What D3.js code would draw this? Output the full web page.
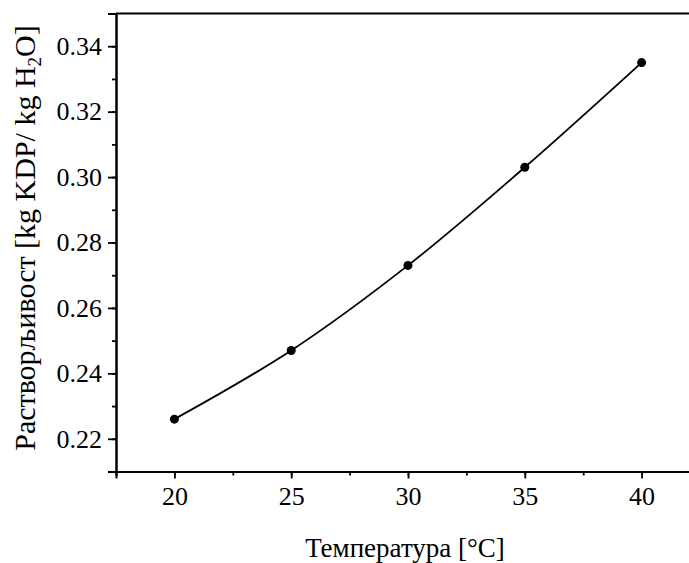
<!DOCTYPE html>
<html>
<head>
<meta charset="utf-8">
<script src="https://cdn.jsdelivr.net/npm/d3@7"></script>
<style>
  body { margin: 0; background: #fff; }
  text { font-family: "Liberation Serif", "Times New Roman", serif; fill: #000; }
</style>
</head>
<body>
<script>
// data
var temps = [20, 25, 30, 35, 40];
var solubility = [0.226, 0.247, 0.273, 0.303, 0.335];
var xTickLabels = [20, 25, 30, 35, 40];
var yTickLabels = [0.22, 0.24, 0.26, 0.28, 0.30, 0.32, 0.34];

var w = 689, h = 563;
// plot box (right side runs off the picture)
var padL = 116, padT = 13.5, padB = 471.5, padR = 700;

var svg = d3.select("body").append("svg")
    .attr("width", w)
    .attr("height", h);

var x = d3.scaleLinear().domain([17.5, 42.5]).range([padL, padR]);
var y = d3.scaleLinear().domain([0.21, 0.35]).range([padB, padT]);

// top frame line
svg.append("line")
    .attr("x1", padL).attr("x2", padR)
    .attr("y1", padT).attr("y2", padT)
    .attr("stroke", "#000").attr("stroke-width", 2);

// x axis: minor ticks, then labelled major ticks
var xAxis = svg.append("g").attr("transform", "translate(0," + padB + ")");
xAxis.call(d3.axisBottom(x).tickValues(d3.range(17.5, 42.6, 2.5))
    .tickSize(4).tickFormat(""));
xAxis.append("g").call(d3.axisBottom(x).tickValues(xTickLabels)
    .tickSize(7).tickPadding(8).tickFormat(d3.format("d")));
xAxis.selectAll("path.domain").attr("stroke-width", 2);
xAxis.selectAll(".tick line").attr("stroke-width", 1.8);
xAxis.selectAll("text")
    .attr("font-size", 26)
    .attr("font-family", "Liberation Serif")
    .attr("fill", "#000");

// y axis
var yAxis = svg.append("g").attr("transform", "translate(" + padL + ",0)");
yAxis.call(d3.axisLeft(y).tickValues(d3.range(21, 35, 1).map(function(d){ return d / 100; }))
    .tickSize(4).tickFormat(""));
yAxis.append("g").call(d3.axisLeft(y).tickValues(yTickLabels)
    .tickSize(8).tickPadding(6).tickFormat(d3.format(".2f")));
yAxis.selectAll("path.domain").attr("stroke-width", 2);
yAxis.selectAll(".tick line").attr("stroke-width", 1.8);
yAxis.selectAll("text")
    .attr("font-size", 26)
    .attr("font-family", "Liberation Serif")
    .attr("fill", "#000");

var pts = temps.map(function(t, i){ return [t, solubility[i]]; });

// smooth curve through the points
var line = d3.line()
    .x(function(d){ return x(d[0]); })
    .y(function(d){ return y(d[1]); })
    .curve(d3.curveCatmullRom);

svg.append("path")
    .datum(pts)
    .attr("d", line)
    .attr("fill", "none")
    .attr("stroke", "#000")
    .attr("stroke-width", 1.8);

svg.selectAll("circle.pt")
    .data(pts)
    .enter().append("circle")
    .attr("class", "pt")
    .attr("cx", function(d){ return x(d[0]); })
    .attr("cy", function(d){ return y(d[1]); })
    .attr("r", 4.5)
    .attr("fill", "#000");

// axis titles
svg.append("text")
    .attr("x", 405).attr("y", 557)
    .attr("text-anchor", "middle")
    .attr("font-size", 27)
    .text("Температура [°C]");

var yt = svg.append("text")
    .attr("transform", "translate(35,238) rotate(-90)")
    .attr("text-anchor", "middle")
    .attr("font-size", 30);
yt.append("tspan").text("Растворљивост [kg KDP/ kg H");
yt.append("tspan").attr("dy", 6).attr("font-size", 19).text("2");
yt.append("tspan").attr("dy", -6).text("O]");
</script>
</body>
</html>
